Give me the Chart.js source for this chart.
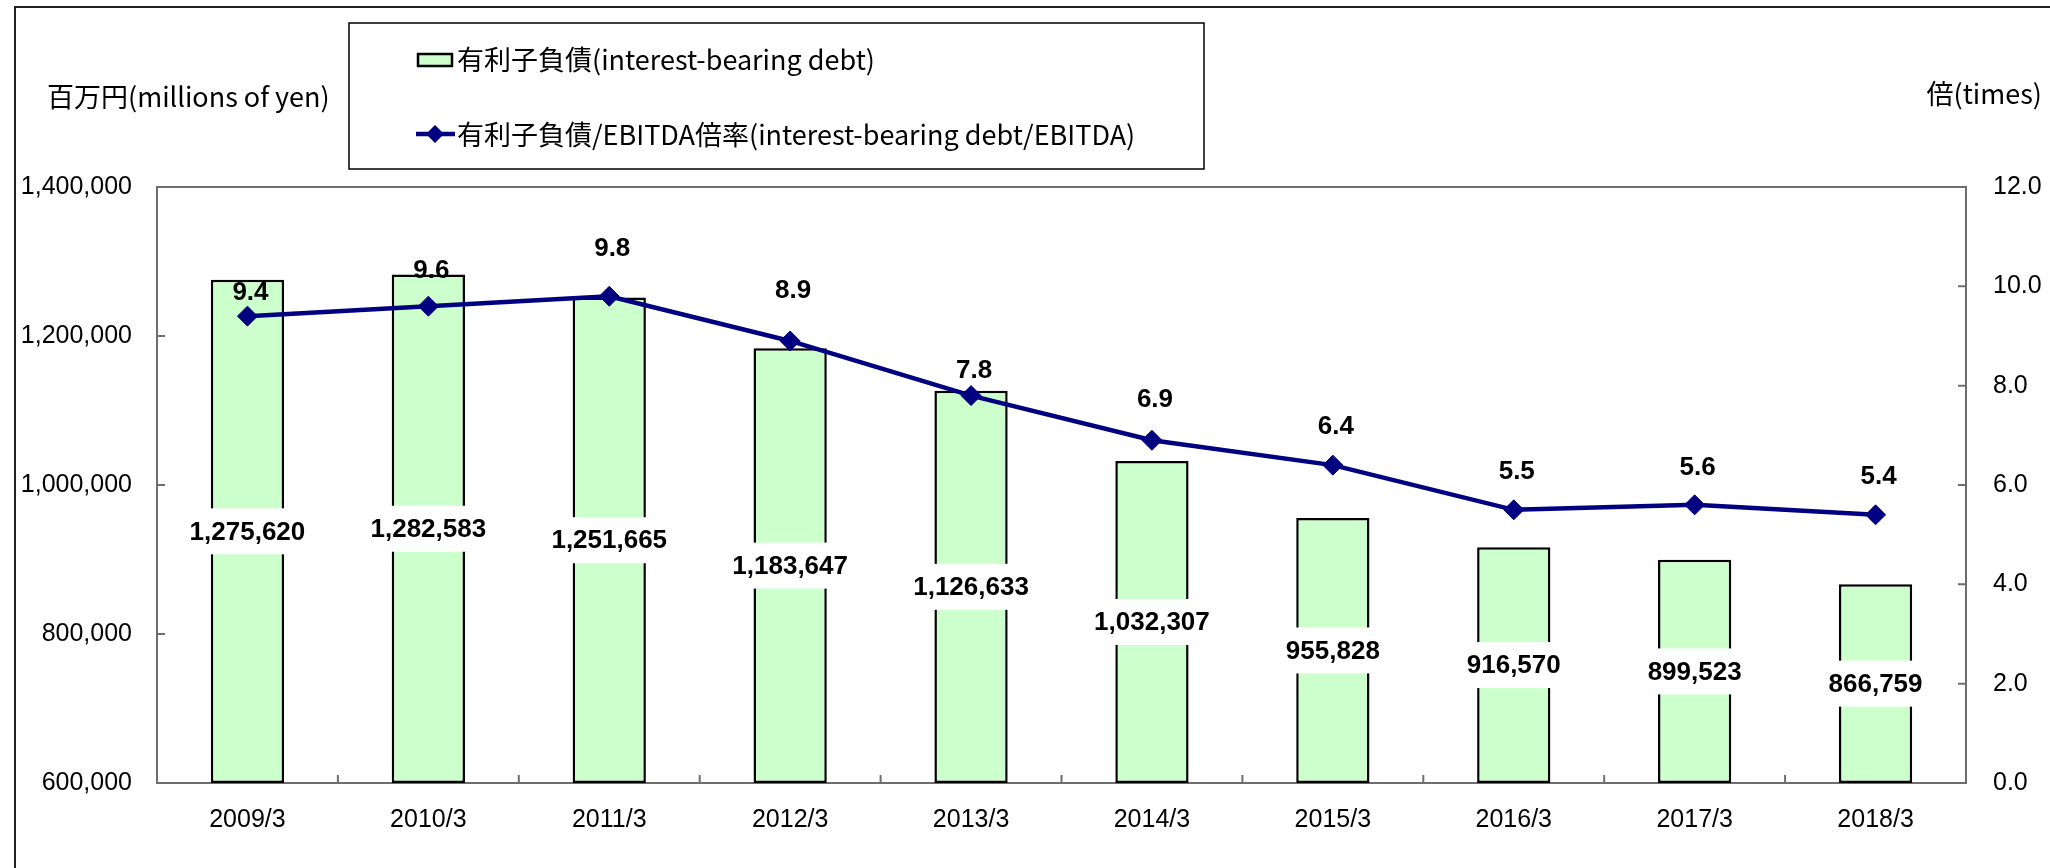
<!DOCTYPE html>
<html>
<head>
<meta charset="utf-8">
<script src="https://cdn.jsdelivr.net/npm/chart.js@4.4.0/dist/chart.umd.min.js"></script>
<style>
  html, body { margin: 0; padding: 0; background: #fff; }
  #wrap { width: 2050px; height: 868px; position: relative; }
</style>
</head>
<body>
<div id="wrap"><canvas id="chart" width="2050" height="868"></canvas></div>
<script>
// данные графика
const categories = ['2009/3', '2010/3', '2011/3', '2012/3', '2013/3', '2014/3', '2015/3', '2016/3', '2017/3', '2018/3'];
const debtValues = [1275620, 1282583, 1251665, 1183647, 1126633, 1032307, 955828, 916570, 899523, 866759];
const ratioValues = [9.4, 9.6, 9.8, 8.9, 7.8, 6.9, 6.4, 5.5, 5.6, 5.4];
const leftTicks = [600000, 800000, 1000000, 1200000, 1400000];
const rightTicks = [0, 2, 4, 6, 8, 10, 12];
const debtLabel = '有利子負債(interest-bearing debt)';
const ratioLabel = '有利子負債/EBITDA倍率(interest-bearing debt/EBITDA)';
const leftTitle = '百万円(millions of yen)';
const rightTitle = '倍(times)';

// насколько подпись коэффициента поднята над точкой (px)
const ratioLabelLift = [23, 35, 47, 50, 25, 40, 38, 38, 37, 38];

const NUM_FONT = '"Liberation Sans", Arial, sans-serif';
const JP_FONT = '"Noto Sans CJK JP", "Noto Sans", sans-serif';

const fmt = (v) => v.toLocaleString('en-US');

// рамка, оси, подписи и легенда
const decorPlugin = {
  id: 'decor',
  beforeDraw(chart) {
    const ctx = chart.ctx;
    ctx.save();
    ctx.fillStyle = '#fff';
    ctx.fillRect(0, 0, chart.width, chart.height);
    // внешняя рамка (обрезана справа и снизу)
    ctx.strokeStyle = '#222';
    ctx.lineWidth = 2;
    ctx.beginPath();
    ctx.moveTo(15, chart.height);
    ctx.lineTo(15, 7);
    ctx.lineTo(chart.width, 7);
    ctx.stroke();
    ctx.restore();
  },
  beforeDatasetsDraw(chart) {
    const { ctx, chartArea: a, scales } = chart;
    ctx.save();
    ctx.strokeStyle = '#6e6e6e';
    ctx.lineWidth = 2;
    ctx.strokeRect(a.left, a.top, a.right - a.left, a.bottom - a.top);

    // риски внутрь области
    ctx.beginPath();
    leftTicks.forEach((v) => {
      const y = scales.y.getPixelForValue(v);
      ctx.moveTo(a.left, y);
      ctx.lineTo(a.left + 8, y);
    });
    rightTicks.forEach((v) => {
      const y = scales.y1.getPixelForValue(v);
      ctx.moveTo(a.right, y);
      ctx.lineTo(a.right - 8, y);
    });
    for (let i = 1; i < categories.length; i++) {
      const x = (scales.x.getPixelForValue(i - 1) + scales.x.getPixelForValue(i)) / 2;
      ctx.moveTo(x, a.bottom);
      ctx.lineTo(x, a.bottom - 8);
    }
    ctx.stroke();
    ctx.restore();
  },
  afterDatasetsDraw(chart) {
    const { ctx, scales } = chart;
    ctx.save();
    ctx.font = 'bold 26px ' + NUM_FONT;
    ctx.textAlign = 'center';
    ctx.textBaseline = 'middle';

    // подписи столбцов в середине, на белой плашке
    const barMeta = chart.getDatasetMeta(0);
    const basePx = scales.y.getPixelForValue(leftTicks[0]);
    barMeta.data.forEach((bar, i) => {
      const text = fmt(debtValues[i]);
      const yMid = (bar.y + basePx) / 2;
      const w = ctx.measureText(text).width + 10;
      ctx.fillStyle = '#fff';
      ctx.fillRect(bar.x - w / 2, yMid - 23, w, 46);
      ctx.fillStyle = '#000';
      ctx.fillText(text, bar.x, yMid + 1);
    });

    // подписи коэффициента над точками
    const lineMeta = chart.getDatasetMeta(1);
    lineMeta.data.forEach((pt, i) => {
      ctx.fillStyle = '#000';
      ctx.fillText(ratioValues[i].toFixed(1), pt.x + 3, pt.y - ratioLabelLift[i]);
    });

    // заголовки осей
    ctx.font = '27px ' + JP_FONT;
    ctx.textAlign = 'left';
    ctx.fillText(leftTitle, 47, 97);
    ctx.textAlign = 'right';
    ctx.fillText(rightTitle, 2042, 94);

    // легенда
    const ds = chart.data.datasets;
    ctx.strokeStyle = '#000';
    ctx.lineWidth = 1.5;
    ctx.strokeRect(349, 23, 855, 146);

    ctx.fillStyle = ds[0].backgroundColor;
    ctx.fillRect(418, 54, 34, 12);
    ctx.lineWidth = 2.5;
    ctx.strokeRect(418, 54, 34, 12);

    ctx.strokeStyle = ds[1].borderColor;
    ctx.lineWidth = 4.5;
    ctx.beginPath();
    ctx.moveTo(416, 134);
    ctx.lineTo(455, 134);
    ctx.stroke();
    ctx.fillStyle = ds[1].borderColor;
    ctx.beginPath();
    ctx.moveTo(435, 125);
    ctx.lineTo(444, 134);
    ctx.lineTo(435, 143);
    ctx.lineTo(426, 134);
    ctx.closePath();
    ctx.fill();

    ctx.fillStyle = '#000';
    ctx.textAlign = 'left';
    ctx.fillText(ds[0].label, 457, 60);
    ctx.fillText(ds[1].label, 457, 135);
    ctx.restore();
  },
};

const ctx = document.getElementById('chart').getContext('2d');
new Chart(ctx, {
  data: {
    labels: categories,
    datasets: [
      {
        type: 'bar',
        label: debtLabel,
        data: debtValues,
        base: leftTicks[0],
        yAxisID: 'y',
        backgroundColor: '#CCFFCC',
        borderColor: '#000',
        borderWidth: 2.5,
        borderSkipped: false,
        barPercentage: 0.405,
        categoryPercentage: 1,
        order: 2,
      },
      {
        type: 'line',
        label: ratioLabel,
        data: ratioValues,
        yAxisID: 'y1',
        borderColor: '#000080',
        backgroundColor: '#000080',
        borderWidth: 4.5,
        pointStyle: 'rectRot',
        pointRadius: 10,
        pointBorderWidth: 1,
        pointBackgroundColor: '#000080',
        pointBorderColor: '#000080',
        tension: 0,
        order: 1,
      },
    ],
  },
  options: {
    responsive: false,
    animation: false,
    devicePixelRatio: 1,
    layout: { padding: { top: 187, left: 0, right: 0, bottom: 0 } },
    plugins: {
      legend: { display: false },
      tooltip: { enabled: false },
    },
    scales: {
      x: {
        offset: true,
        grid: { display: false, drawTicks: false },
        border: { display: false },
        ticks: {
          color: '#000',
          font: { family: NUM_FONT, size: 25 },
          padding: 22,
          autoSkip: false,
          maxRotation: 0,
        },
        afterFit: (scale) => { scale.height = 85; },
      },
      y: {
        position: 'left',
        min: 600000,
        max: 1400000,
        grid: { display: false, drawTicks: false },
        border: { display: false },
        afterBuildTicks: (scale) => { scale.ticks = leftTicks.map((v) => ({ value: v })); },
        ticks: {
          color: '#000',
          font: { family: NUM_FONT, size: 25 },
          padding: 25,
          callback: (v) => fmt(v),
        },
        afterFit: (scale) => { scale.width = 157; },
      },
      y1: {
        position: 'right',
        min: 0,
        max: 12,
        grid: { display: false, drawTicks: false },
        border: { display: false },
        afterBuildTicks: (scale) => { scale.ticks = rightTicks.map((v) => ({ value: v })); },
        ticks: {
          color: '#000',
          font: { family: NUM_FONT, size: 25 },
          padding: 27,
          callback: (v) => v.toFixed(1),
        },
        afterFit: (scale) => { scale.width = 84; },
      },
    },
  },
  plugins: [decorPlugin],
});
</script>
</body>
</html>
